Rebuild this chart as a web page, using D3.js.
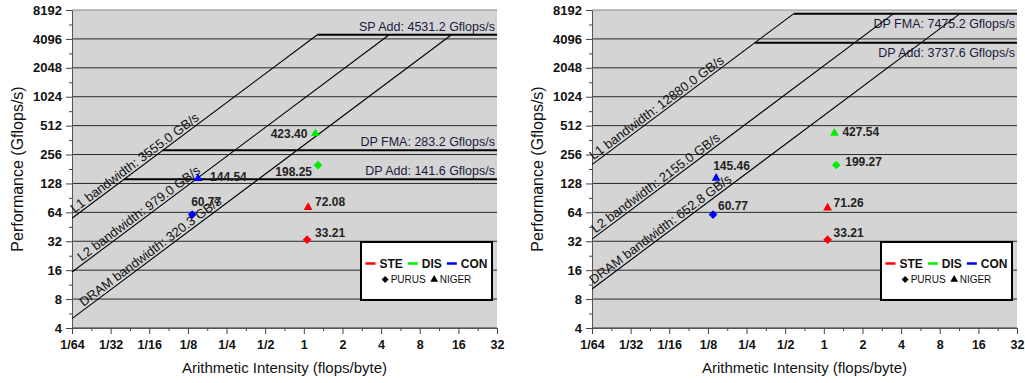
<!DOCTYPE html>
<html>
<head>
<meta charset="utf-8">
<script src="https://cdn.jsdelivr.net/npm/d3@7"></script>
<style>
body { margin: 0; background: #fff; }
text { font-family: "Liberation Sans", Arial, sans-serif; }
</style>
</head>
<body>
<script>
// axes
var xTickValues = [1/64, 1/32, 1/16, 1/8, 1/4, 1/2, 1, 2, 4, 8, 16, 32];
var xTickLabels = ["1/64", "1/32", "1/16", "1/8", "1/4", "1/2", "1", "2", "4", "8", "16", "32"];
var yTickValues = [4, 8, 16, 32, 64, 128, 256, 512, 1024, 2048, 4096, 8192];

var seriesNames = ["STE", "DIS", "CON"];
var seriesColors = ["#ff0000", "#00ee00", "#0000ff"];
var machineNames = ["PURUS", "NIGER"];

// left chart
var leftBwNames = ["L1", "L2", "DRAM"];
var leftBwValues = [3555.0, 979.0, 320.3];
var leftCeilNames = ["SP Add", "DP FMA", "DP Add"];
var leftCeilValues = [4531.2, 283.2, 141.6];
var leftPurusAI = [1.06, 1.29, 0.135];
var leftPurusPerf = [33.21, 198.25, 60.77];
var leftNigerAI = [1.08, 1.23, 0.15];
var leftNigerPerf = [72.08, 423.40, 144.54];

// right chart
var rightBwNames = ["L1", "L2", "DRAM"];
var rightBwValues = [12880.0, 2155.0, 652.8];
var rightCeilNames = ["DP FMA", "DP Add"];
var rightCeilValues = [7475.2, 3737.6];
var rightPurusAI = [1.07, 1.25, 0.137];
var rightPurusPerf = [33.21, 199.27, 60.77];
var rightNigerAI = [1.07, 1.21, 0.145];
var rightNigerPerf = [71.26, 427.54, 145.46];

var W = 1025, H = 383;
var L = 72, R = 497, T = 10, B = 328;

var svg = d3.select("body").append("svg").attr("width", W).attr("height", H);

function roofline(ox, d, look) {
	var g = svg.append("g").attr("transform", "translate(" + ox + ",0)");
	var x = d3.scaleLog().base(2).domain([1/64, 32]).range([L, R]);
	var y = d3.scaleLog().base(2).domain([4, 8192]).range([B, T]);

	g.append("rect").attr("x", L).attr("y", T).attr("width", R - L).attr("height", B - T).attr("fill", "#d4d4d4");

	g.selectAll(".grid").data(yTickValues).join("line")
		.attr("x1", L).attr("x2", R)
		.attr("y1", function(v){ return y(v); }).attr("y2", function(v){ return y(v); })
		.attr("stroke", function(v){ return v === 8192 ? "#8a8a8a" : "#2a2a2a"; })
		.attr("stroke-width", 1);

	// y axis
	var ya = g.append("g").attr("transform", "translate(" + L + ",0)")
		.call(d3.axisLeft(y).tickValues(yTickValues).tickFormat(d3.format("d")).tickSize(6).tickPadding(4).tickSizeOuter(0));
	ya.selectAll("text").attr("font-size", 13).attr("font-weight", "bold").attr("fill", "#111");
	ya.selectAll("line").attr("stroke", "#444");
	ya.select(".domain").attr("stroke", "#555");
	var yMinor = d3.pairs(yTickValues).map(function(p){ return Math.sqrt(p[0] * p[1]); });
	var ym = g.append("g").attr("transform", "translate(" + L + ",0)")
		.call(d3.axisLeft(y).tickValues(yMinor).tickFormat("").tickSize(3).tickSizeOuter(0));
	ym.select(".domain").remove();
	ym.selectAll("line").attr("stroke", "#444");

	// x axis
	var xa = g.append("g").attr("transform", "translate(0," + B + ")")
		.call(d3.axisBottom(x).tickValues(xTickValues).tickFormat(function(v, i){ return xTickLabels[i]; }).tickSize(6).tickPadding(6).tickSizeOuter(0));
	xa.selectAll("text").attr("font-size", 12.5).attr("font-weight", "bold").attr("fill", "#111");
	xa.selectAll("line").attr("stroke", "#444");
	xa.select(".domain").attr("stroke", "#555");
	var xMinor = d3.pairs(xTickValues).map(function(p){ return Math.sqrt(p[0] * p[1]); });
	var xm = g.append("g").attr("transform", "translate(0," + B + ")")
		.call(d3.axisBottom(x).tickValues(xMinor).tickFormat("").tickSize(3).tickSizeOuter(0));
	xm.select(".domain").remove();
	xm.selectAll("line").attr("stroke", "#444");

	// ceilings
	var maxCeil = d3.max(d.ceilValues);
	var maxBw = d3.max(d.bwValues);
	d.ceilValues.forEach(function(c, i){
		g.append("line")
			.attr("x1", x(c / maxBw)).attr("x2", R)
			.attr("y1", y(c)).attr("y2", y(c))
			.attr("stroke", "#000").attr("stroke-width", 2);
		g.append("text")
			.attr("x", R - 2).attr("y", y(c) + (look.ceilBelow ? 14 : -4))
			.attr("text-anchor", "end").attr("font-size", 12.5).attr("fill", "#1a1a40")
			.text(d.ceilNames[i] + ": " + d3.format(".1f")(c) + " Gflops/s");
	});

	// bandwidth diagonals
	var line = d3.line();
	d.bwValues.forEach(function(bw, i){
		var ai = [1/64, maxCeil / bw];
		g.append("path")
			.attr("d", line(ai.map(function(a){ return [x(a), y(bw * a)]; })))
			.attr("fill", "none").attr("stroke", "#000").attr("stroke-width", 1.1);
		var px = L + look.bwLabelOffset[i];
		var a0 = x.invert(px);
		var py = y(bw * a0);
		var ang = Math.atan2(y(bw * 2) - y(bw), x(2) - x(1)) * 180 / Math.PI;
		g.append("text")
			.attr("transform", "translate(" + px + "," + py + ") rotate(" + ang + ")")
			.attr("dy", -2.5).attr("font-size", 13).attr("fill", "#111")
			.text(d.bwNames[i] + " bandwidth: " + d3.format(".1f")(bw) + " GB/s");
	});

	// points
	var diamond = d3.symbol(d3.symbolSquare, 38)();
	var triangle = d3.symbol(d3.symbolTriangle, 34)();
	var machines = [[d.purusAI, d.purusPerf, diamond, 45], [d.nigerAI, d.nigerPerf, triangle, 0]];
	machines.forEach(function(m, mi){
		m[0].forEach(function(a, i){
			var cx = x(a), cy = y(m[1][i]);
			g.append("path").attr("d", m[2])
				.attr("transform", "translate(" + cx + "," + cy + ") rotate(" + m[3] + ")")
				.attr("fill", seriesColors[i]);
			var lb = look.ptLabels[mi][i];
			g.append("text")
				.attr("x", cx + lb[0]).attr("y", cy + lb[1])
				.attr("text-anchor", lb[2])
				.attr("font-size", 12).attr("font-weight", "bold").attr("fill", "#222")
				.text(d3.format(".2f")(m[1][i]));
		});
	});

	// legend
	var bx = 361, by = 242, bwd = 131, bh = 58;
	g.append("rect").attr("x", bx).attr("y", by).attr("width", bwd).attr("height", bh)
		.attr("fill", "#fff").attr("stroke", "#000").attr("stroke-width", 2);
	var row1 = g.append("g");
	var cur = 0;
	seriesNames.forEach(function(s, i){
		row1.append("line").attr("x1", cur).attr("x2", cur + 10).attr("y1", -4.5).attr("y2", -4.5)
			.attr("stroke", seriesColors[i]).attr("stroke-width", 2.5);
		cur += 14;
		var t = row1.append("text").attr("x", cur).attr("y", 0).attr("font-size", 12).attr("font-weight", "bold")
			.attr("fill", "#111").text(s);
		cur += t.node().getComputedTextLength() + 5;
	});
	cur -= 5;
	row1.attr("transform", "translate(" + (bx + (bwd - cur) / 2) + "," + (by + 26) + ")");
	var row2 = g.append("g");
	cur = 0;
	[0, 1].forEach(function(i){
		row2.append("path").attr("d", i === 0 ? d3.symbol(d3.symbolSquare, 24)() : d3.symbol(d3.symbolTriangle, 26)())
			.attr("transform", "translate(" + (cur + 3.5) + ",-3.5) rotate(" + (i === 0 ? 45 : 0) + ")")
			.attr("fill", "#000");
		cur += 9;
		var t = row2.append("text").attr("x", cur).attr("y", 0).attr("font-size", 10).attr("fill", "#111").text(machineNames[i]);
		cur += t.node().getComputedTextLength() + 5;
	});
	cur -= 5;
	row2.attr("transform", "translate(" + (bx + (bwd - cur) / 2) + "," + (by + 41) + ")");

	// axis titles
	g.append("text").attr("transform", "translate(23," + ((T + B) / 2) + ") rotate(-90)")
		.attr("text-anchor", "middle").attr("font-size", 16).attr("fill", "#111")
		.text("Performance (Gflops/s)");
	g.append("text").attr("x", (L + R) / 2).attr("y", 373)
		.attr("text-anchor", "middle").attr("font-size", 15).attr("fill", "#111")
		.text("Arithmetic Intensity (flops/byte)");
}

roofline(0, {
	bwNames: leftBwNames, bwValues: leftBwValues,
	ceilNames: leftCeilNames, ceilValues: leftCeilValues,
	purusAI: leftPurusAI, purusPerf: leftPurusPerf,
	nigerAI: leftNigerAI, nigerPerf: leftNigerPerf
}, {
	ceilBelow: false,
	bwLabelOffset: [4, 11, 13],
	ptLabels: [
		[[8, -3, "start"], [-6, 11, "end"], [-1, -9, "start"]],
		[[7, -1, "start"], [-8, 4, "end"], [12, 3, "start"]]
	]
});

roofline(520, {
	bwNames: rightBwNames, bwValues: rightBwValues,
	ceilNames: rightCeilNames, ceilValues: rightCeilValues,
	purusAI: rightPurusAI, purusPerf: rightPurusPerf,
	nigerAI: rightNigerAI, nigerPerf: rightNigerPerf
}, {
	ceilBelow: true,
	bwLabelOffset: [3, 5, 3],
	ptLabels: [
		[[6, -3, "start"], [9, 1, "start"], [5, -5, "start"]],
		[[6, -1, "start"], [8, 3, "start"], [-3, -8, "start"]]
	]
});
</script>
</body>
</html>
